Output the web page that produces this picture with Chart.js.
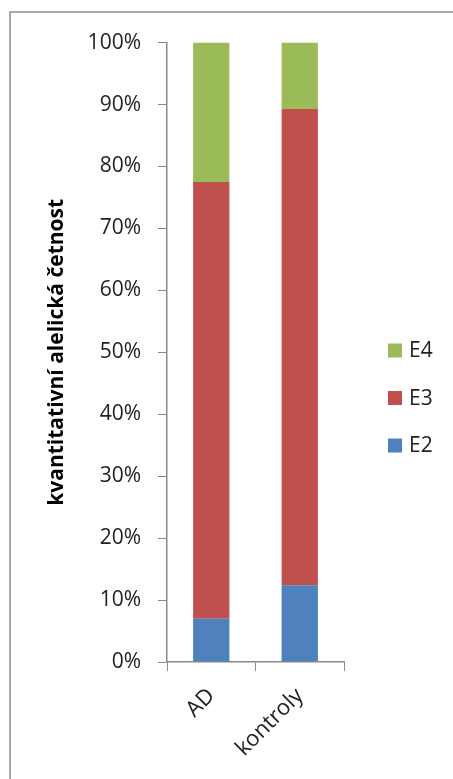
<!DOCTYPE html>
<html>
<head>
<meta charset="utf-8">
<script src="https://cdn.jsdelivr.net/npm/chart.js@4.4.0/dist/chart.umd.min.js"></script>
<style>
  body { margin: 0; background: #fff; overflow: hidden; }
  #ramecek { position: absolute; left: 9px; top: 11px; width: 520px; height: 820px; border: 2px solid #a8a8a8; }
  #obal { position: absolute; left: 11px; top: 13px; width: 442px; height: 766px; }
</style>
</head>
<body>
<div id="ramecek"></div>
<div id="obal"><canvas id="graf" width="442" height="766"></canvas></div>
<script>
// alelická četnost APOE v procentech
const skupiny = ['AD', 'kontroly'];
const alelyE2 = [7.0, 12.4];
const alelyE3 = [70.5, 76.9];
const alelyE4 = [22.5, 10.7];

const pismo = 'Open Sans';
const seda = '#898989';

const data = {
  labels: skupiny,
  datasets: [
    { label: 'E2', data: alelyE2, backgroundColor: '#4F81BD' },
    { label: 'E3', data: alelyE3, backgroundColor: '#C0504D' },
    { label: 'E4', data: alelyE4, backgroundColor: '#9BBB59' }
  ]
};

// legenda vpravo, od posledni serie k prvni, vystredena kolem stredu grafu
const legendaVpravo = {
  id: 'legendaVpravo',
  afterDraw(chart) {
    const ctx = chart.ctx;
    const sady = chart.data.datasets.slice().reverse();
    const x = chart.chartArea.right + 44;
    const krok = 47.5;
    const stred = 385;
    ctx.save();
    ctx.font = '21px "' + pismo + '"';
    ctx.textBaseline = 'middle';
    ctx.textAlign = 'left';
    sady.forEach((sada, i) => {
      const y = stred + (i - (sady.length - 1) / 2) * krok;
      ctx.fillStyle = sada.backgroundColor;
      ctx.fillRect(x, y - 7, 14, 14);
      ctx.fillStyle = '#222';
      ctx.fillText(sada.label, x + 21, y + 1);
    });
    ctx.restore();
  }
};

const config = {
  type: 'bar',
  data: data,
  plugins: [legendaVpravo],
  options: {
    responsive: false,
    animation: false,
    datasets: {
      bar: { categoryPercentage: 1, barPercentage: 0.41 }
    },
    layout: { padding: { top: 28, left: 0, bottom: 0, right: 109 } },
    plugins: {
      tooltip: { enabled: false },
      legend: { display: false }
    },
    scales: {
      x: {
        stacked: true,
        grid: { offset: true, drawOnChartArea: false, drawTicks: true, tickLength: 9, color: seda },
        border: { display: true, color: seda, width: 1.5 },
        ticks: {
          maxRotation: 45, minRotation: 45, padding: 12,
          color: '#222', font: { family: pismo, size: 22 }
        },
        afterFit(scale) { scale.height = 117; }
      },
      y: {
        stacked: true,
        min: 0,
        max: 100,
        grid: { drawOnChartArea: false, drawTicks: true, tickLength: 9, color: seda },
        border: { display: true, color: seda, width: 1.5 },
        ticks: {
          stepSize: 10, padding: 17,
          color: '#222', font: { family: pismo, size: 21 },
          callback: v => v + '%'
        },
        title: {
          display: true,
          text: 'kvantitativní alelická četnost',
          color: '#000',
          font: { family: pismo, size: 21, weight: 'bold' },
          padding: { top: 33, bottom: 0 }
        },
        afterFit(scale) { scale.width = 156; }
      }
    }
  }
};

let myChart = new Chart(document.getElementById('graf'), config);
</script>
</body>
</html>
